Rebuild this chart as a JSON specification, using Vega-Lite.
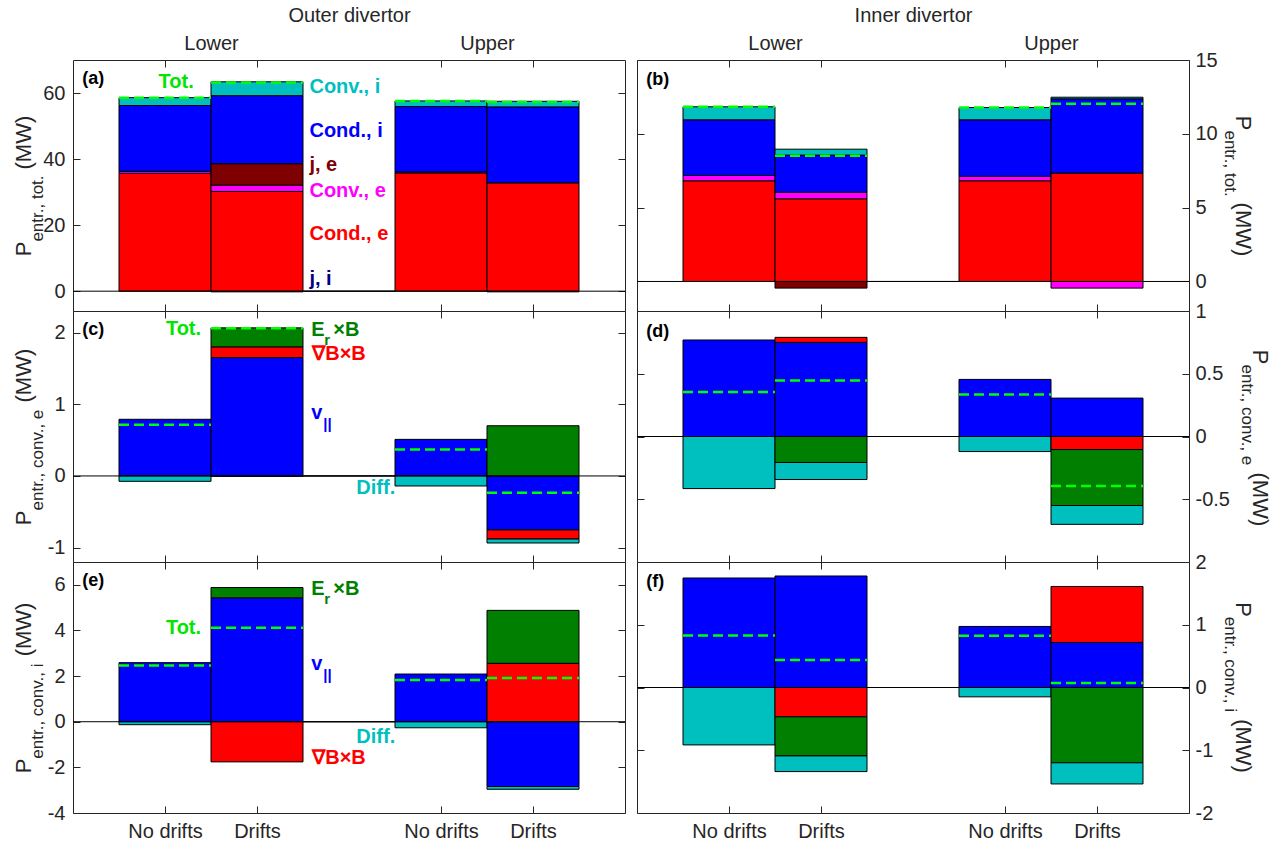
{
  "$schema": "https://vega.github.io/schema/vega-lite/v6.json",
  "autosize": {"type": "pad"},
  "padding": {"left": 12, "top": 4, "right": 5, "bottom": 5},
  "background": "white",
  "config": {
    "font": "Liberation Sans",
    "view": {"stroke": "#262626", "strokeWidth": 1},
    "axis": {
      "domain": false, "grid": false, "tickSize": -7, "tickColor": "#262626", "tickWidth": 1,
      "labelFont": "Liberation Sans", "labelFontSize": 20, "labelColor": "#262626",
      "labelFlush": false, "labelOverlap": false,
      "titleFont": "Liberation Sans", "titleColor": "#262626", "titleFontWeight": "normal"
    }
  },
  "datasets": {
    "bars": [
      {"panel": "a", "pos": 1, "comp": "Cond., e", "value": 35.7},
      {"panel": "a", "pos": 1, "comp": "Conv., e", "value": 0.6},
      {"panel": "a", "pos": 1, "comp": "Cond., i", "value": 19.9},
      {"panel": "a", "pos": 1, "comp": "Conv., i", "value": 2.4},
      {"panel": "a", "pos": 2, "comp": "j, i", "value": -0.2},
      {"panel": "a", "pos": 2, "comp": "Cond., e", "value": 30.2},
      {"panel": "a", "pos": 2, "comp": "Conv., e", "value": 1.9},
      {"panel": "a", "pos": 2, "comp": "j, e", "value": 6.5},
      {"panel": "a", "pos": 2, "comp": "Cond., i", "value": 20.6},
      {"panel": "a", "pos": 2, "comp": "Conv., i", "value": 4.2},
      {"panel": "a", "pos": 3, "comp": "Cond., e", "value": 0},
      {"panel": "a", "pos": 4, "comp": "Cond., e", "value": 35.8},
      {"panel": "a", "pos": 4, "comp": "Conv., e", "value": 0.3},
      {"panel": "a", "pos": 4, "comp": "Cond., i", "value": 19.8},
      {"panel": "a", "pos": 4, "comp": "Conv., i", "value": 1.7},
      {"panel": "a", "pos": 5, "comp": "j, i", "value": -0.2},
      {"panel": "a", "pos": 5, "comp": "Cond., e", "value": 32.8},
      {"panel": "a", "pos": 5, "comp": "Cond., i", "value": 23.0},
      {"panel": "a", "pos": 5, "comp": "Conv., i", "value": 1.7},

      {"panel": "b", "pos": 1, "comp": "Cond., e", "value": 6.82},
      {"panel": "b", "pos": 1, "comp": "Conv., e", "value": 0.36},
      {"panel": "b", "pos": 1, "comp": "Cond., i", "value": 3.77},
      {"panel": "b", "pos": 1, "comp": "Conv., i", "value": 0.88},
      {"panel": "b", "pos": 2, "comp": "Cond., e", "value": 5.6},
      {"panel": "b", "pos": 2, "comp": "Conv., e", "value": 0.45},
      {"panel": "b", "pos": 2, "comp": "j, e", "value": -0.45},
      {"panel": "b", "pos": 2, "comp": "Cond., i", "value": 2.51},
      {"panel": "b", "pos": 2, "comp": "Conv., i", "value": 0.4},
      {"panel": "b", "pos": 3, "comp": "Cond., e", "value": 0},
      {"panel": "b", "pos": 4, "comp": "Cond., e", "value": 6.82},
      {"panel": "b", "pos": 4, "comp": "Conv., e", "value": 0.31},
      {"panel": "b", "pos": 4, "comp": "Cond., i", "value": 3.82},
      {"panel": "b", "pos": 4, "comp": "Conv., i", "value": 0.83},
      {"panel": "b", "pos": 5, "comp": "Cond., e", "value": 7.34},
      {"panel": "b", "pos": 5, "comp": "Conv., e", "value": -0.45},
      {"panel": "b", "pos": 5, "comp": "Cond., i", "value": 5.03},
      {"panel": "b", "pos": 5, "comp": "Conv., i", "value": 0.11},

      {"panel": "c", "pos": 1, "comp": "v||", "value": 0.79},
      {"panel": "c", "pos": 1, "comp": "Diff.", "value": -0.075},
      {"panel": "c", "pos": 2, "comp": "v||", "value": 1.65},
      {"panel": "c", "pos": 2, "comp": "∇B×B", "value": 0.15},
      {"panel": "c", "pos": 2, "comp": "Er×B", "value": 0.265},
      {"panel": "c", "pos": 2, "comp": "Diff.", "value": -0.005},
      {"panel": "c", "pos": 3, "comp": "v||", "value": 0},
      {"panel": "c", "pos": 4, "comp": "v||", "value": 0.51},
      {"panel": "c", "pos": 4, "comp": "Diff.", "value": -0.14},
      {"panel": "c", "pos": 5, "comp": "v||", "value": -0.753},
      {"panel": "c", "pos": 5, "comp": "∇B×B", "value": -0.127},
      {"panel": "c", "pos": 5, "comp": "Er×B", "value": 0.7},
      {"panel": "c", "pos": 5, "comp": "Diff.", "value": -0.055},

      {"panel": "d", "pos": 1, "comp": "v||", "value": 0.769},
      {"panel": "d", "pos": 1, "comp": "Diff.", "value": -0.415},
      {"panel": "d", "pos": 2, "comp": "v||", "value": 0.75},
      {"panel": "d", "pos": 2, "comp": "∇B×B", "value": 0.04},
      {"panel": "d", "pos": 2, "comp": "Er×B", "value": -0.207},
      {"panel": "d", "pos": 2, "comp": "Diff.", "value": -0.136},
      {"panel": "d", "pos": 3, "comp": "v||", "value": 0},
      {"panel": "d", "pos": 4, "comp": "v||", "value": 0.455},
      {"panel": "d", "pos": 4, "comp": "Diff.", "value": -0.12},
      {"panel": "d", "pos": 5, "comp": "v||", "value": 0.306},
      {"panel": "d", "pos": 5, "comp": "∇B×B", "value": -0.104},
      {"panel": "d", "pos": 5, "comp": "Er×B", "value": -0.446},
      {"panel": "d", "pos": 5, "comp": "Diff.", "value": -0.15},

      {"panel": "e", "pos": 1, "comp": "v||", "value": 2.59},
      {"panel": "e", "pos": 1, "comp": "Diff.", "value": -0.13},
      {"panel": "e", "pos": 2, "comp": "v||", "value": 5.43},
      {"panel": "e", "pos": 2, "comp": "∇B×B", "value": -1.76},
      {"panel": "e", "pos": 2, "comp": "Er×B", "value": 0.45},
      {"panel": "e", "pos": 3, "comp": "v||", "value": 0},
      {"panel": "e", "pos": 4, "comp": "v||", "value": 2.09},
      {"panel": "e", "pos": 4, "comp": "Diff.", "value": -0.265},
      {"panel": "e", "pos": 5, "comp": "v||", "value": -2.84},
      {"panel": "e", "pos": 5, "comp": "∇B×B", "value": 2.56},
      {"panel": "e", "pos": 5, "comp": "Er×B", "value": 2.32},
      {"panel": "e", "pos": 5, "comp": "Diff.", "value": -0.12},

      {"panel": "f", "pos": 1, "comp": "v||", "value": 1.745},
      {"panel": "f", "pos": 1, "comp": "Diff.", "value": -0.915},
      {"panel": "f", "pos": 2, "comp": "v||", "value": 1.777},
      {"panel": "f", "pos": 2, "comp": "∇B×B", "value": -0.468},
      {"panel": "f", "pos": 2, "comp": "Er×B", "value": -0.622},
      {"panel": "f", "pos": 2, "comp": "Diff.", "value": -0.25},
      {"panel": "f", "pos": 3, "comp": "v||", "value": 0},
      {"panel": "f", "pos": 4, "comp": "v||", "value": 0.973},
      {"panel": "f", "pos": 4, "comp": "Diff.", "value": -0.149},
      {"panel": "f", "pos": 5, "comp": "v||", "value": 0.718},
      {"panel": "f", "pos": 5, "comp": "∇B×B", "value": 0.892},
      {"panel": "f", "pos": 5, "comp": "Er×B", "value": -1.2},
      {"panel": "f", "pos": 5, "comp": "Diff.", "value": -0.337}
    ],
    "totals": [
      {"panel": "a", "pos": 1, "total": 58.6}, {"panel": "a", "pos": 2, "total": 63.2},
      {"panel": "a", "pos": 4, "total": 57.6}, {"panel": "a", "pos": 5, "total": 57.3},
      {"panel": "b", "pos": 1, "total": 11.83}, {"panel": "b", "pos": 2, "total": 8.51},
      {"panel": "b", "pos": 4, "total": 11.78}, {"panel": "b", "pos": 5, "total": 12.03},
      {"panel": "c", "pos": 1, "total": 0.715}, {"panel": "c", "pos": 2, "total": 2.06},
      {"panel": "c", "pos": 4, "total": 0.37}, {"panel": "c", "pos": 5, "total": -0.235},
      {"panel": "d", "pos": 1, "total": 0.354}, {"panel": "d", "pos": 2, "total": 0.447},
      {"panel": "d", "pos": 4, "total": 0.335}, {"panel": "d", "pos": 5, "total": -0.394},
      {"panel": "e", "pos": 1, "total": 2.46}, {"panel": "e", "pos": 2, "total": 4.12},
      {"panel": "e", "pos": 4, "total": 1.825}, {"panel": "e", "pos": 5, "total": 1.92},
      {"panel": "f", "pos": 1, "total": 0.83}, {"panel": "f", "pos": 2, "total": 0.437},
      {"panel": "f", "pos": 4, "total": 0.824}, {"panel": "f", "pos": 5, "total": 0.073}
    ],
    "notes": [
      {"panel": "a", "x": 0.93, "y": 63.4, "text": "Tot.", "comp": "Tot."},
      {"panel": "a", "x": 2.57, "y": 61.8, "text": "Conv., i", "comp": "Conv., i"},
      {"panel": "a", "x": 2.57, "y": 48.6, "text": "Cond., i", "comp": "Cond., i"},
      {"panel": "a", "x": 2.57, "y": 38.1, "text": "j, e", "comp": "j, e"},
      {"panel": "a", "x": 2.57, "y": 30.4, "text": "Conv., e", "comp": "Conv., e"},
      {"panel": "a", "x": 2.57, "y": 17.2, "text": "Cond., e", "comp": "Cond., e"},
      {"panel": "a", "x": 2.57, "y": 3.6, "text": "j, i", "comp": "j, i"},
      {"panel": "c", "x": 1.01, "y": 2.05, "text": "Tot.", "comp": "Tot."},
      {"panel": "c", "x": 2.59, "y": 2.04, "text": "E", "comp": "Er×B"},
      {"panel": "c", "x": 2.83, "y": 2.04, "text": "×B", "comp": "Er×B"},
      {"panel": "c", "x": 2.6, "y": 1.7, "text": "∇B×B", "comp": "∇B×B"},
      {"panel": "c", "x": 2.59, "y": 0.88, "text": "v", "comp": "v||"},
      {"panel": "c", "x": 3.08, "y": -0.17, "text": "Diff.", "comp": "Diff."},
      {"panel": "e", "x": 2.59, "y": 5.82, "text": "E", "comp": "Er×B"},
      {"panel": "e", "x": 2.83, "y": 5.82, "text": "×B", "comp": "Er×B"},
      {"panel": "e", "x": 1.01, "y": 4.12, "text": "Tot.", "comp": "Tot."},
      {"panel": "e", "x": 2.59, "y": 2.54, "text": "v", "comp": "v||"},
      {"panel": "e", "x": 3.08, "y": -0.66, "text": "Diff.", "comp": "Diff."},
      {"panel": "e", "x": 2.6, "y": -1.57, "text": "∇B×B", "comp": "∇B×B"}
    ],
    "subs": [
      {"panel": "c", "x": 2.73, "y": 1.9, "text": "r", "comp": "Er×B"},
      {"panel": "c", "x": 2.72, "y": 0.72, "text": "||", "comp": "v||"},
      {"panel": "e", "x": 2.73, "y": 5.37, "text": "r", "comp": "Er×B"},
      {"panel": "e", "x": 2.72, "y": 2.03, "text": "||", "comp": "v||"}
    ],
    "letters": [
      {"panel": "a", "x": 0.1, "y": 64.1, "text": "(a)"},
      {"panel": "b", "x": 0.1, "y": 13.65, "text": "(b)"},
      {"panel": "c", "x": 0.1, "y": 2.04, "text": "(c)"},
      {"panel": "d", "x": 0.1, "y": 0.83, "text": "(d)"},
      {"panel": "e", "x": 0.1, "y": 6.15, "text": "(e)"},
      {"panel": "f", "x": 0.1, "y": 1.68, "text": "(f)"}
    ]
  },
  "concat": [
    {
      "width": 552, "height": 251,
      "resolve": {"axis": {"x": "independent", "y": "independent"}},
      "layer": [
        {
          "data": {"name": "bars"},
          "transform": [{"filter": "datum.panel == 'a'"}, {"stack": "value", "groupby": ["pos"], "as": ["v0", "v1"]}, {"calculate": "datum.pos - 0.5", "as": "x0"}, {"calculate": "datum.pos + 0.5", "as": "x1"}],
          "mark": {"type": "bar", "stroke": "#000000", "strokeWidth": 1},
          "encoding": {
            "x": {"field": "x0", "type": "quantitative", "scale": {"domain": [0, 6], "nice": false, "zero": false}, "axis": {"orient": "bottom", "values": [1, 2, 4, 5], "labels": false, "title": null}},
            "x2": {"field": "x1"},
            "y": {"field": "v0", "type": "quantitative", "scale": {"domain": [-6, 70], "nice": false, "zero": false}, "axis": {"orient": "left", "values": [0, 20, 40, 60], "format": "~r", "labelExpr": "replace(datum.label, '−', '-')", "labelPadding": 15, "title": "P", "titleX": -42.5, "titleY": 195.8, "titleAngle": 270, "titleAlign": "left", "titleBaseline": "alphabetic", "titleFontSize": 22}},
            "y2": {"field": "v1"},
            "color": {"field": "comp", "type": "nominal", "legend": null, "scale": {"domain": ["j, i", "Cond., e", "Conv., e", "j, e", "Cond., i", "Conv., i", "v||", "∇B×B", "Er×B", "Diff.", "Tot."], "range": ["#00007f", "#ff0000", "#ff00ff", "#7f0000", "#0000ff", "#00bfbf", "#0000ff", "#ff0000", "#007f00", "#00bfbf", "#00e600"]}}
          }
        },
        {
          "data": {"values": [{"zero": 0}]},
          "mark": {"type": "rule", "stroke": "#000000", "strokeWidth": 1},
          "encoding": {
            "y": {"field": "zero", "type": "quantitative", "scale": {"domain": [-6, 70], "nice": false, "zero": false}, "axis": {"orient": "left", "labels": false, "ticks": false, "title": "(MW)", "titleX": -42.5, "titleY": 109, "titleAngle": 270, "titleAlign": "left", "titleBaseline": "alphabetic", "titleFontSize": 22}}
          }
        },
        {
          "data": {"name": "totals"},
          "transform": [{"filter": "datum.panel == 'a'"}, {"calculate": "datum.pos - 0.5", "as": "x0"}, {"calculate": "datum.pos + 0.5", "as": "x1"}],
          "mark": {"type": "rule", "stroke": "#00ff00", "strokeWidth": 2.5, "strokeDash": [10, 5]},
          "encoding": {
            "x": {"field": "x0", "type": "quantitative", "scale": {"domain": [0, 6], "nice": false, "zero": false}, "axis": {"orient": "top", "values": [1, 1.5, 2, 4, 4.5, 5], "labelExpr": "datum.value == 1.5 ? 'Lower' : datum.value == 4.5 ? 'Upper' : ''", "tickOpacity": {"condition": {"test": "datum.value == 1.5 || datum.value == 4.5", "value": 0}, "value": 1}, "labelPadding": 14, "title": "Outer divertor", "titleY": -39, "titleBaseline": "alphabetic", "titleFontSize": 20}},
            "x2": {"field": "x1"},
            "y": {"field": "total", "type": "quantitative", "scale": {"domain": [-6, 70], "nice": false, "zero": false}, "axis": {"orient": "left", "labels": false, "ticks": false, "title": "entr., tot.", "titleX": -30.5, "titleY": 181.1, "titleAngle": 270, "titleAlign": "left", "titleBaseline": "alphabetic", "titleFontSize": 17}}
          }
        },
        {
          "data": {"name": "notes"},
          "transform": [{"filter": "datum.panel == 'a'"}],
          "mark": {"type": "text", "align": "left", "baseline": "middle", "fontSize": 20, "fontWeight": "bold"},
          "encoding": {
            "x": {"field": "x", "type": "quantitative", "scale": {"domain": [0, 6], "nice": false, "zero": false}, "axis": null},
            "y": {"field": "y", "type": "quantitative", "scale": {"domain": [-6, 70], "nice": false, "zero": false}, "axis": null},
            "text": {"field": "text"},
            "color": {"field": "comp", "type": "nominal", "legend": null}
          }
        },
        {
          "data": {"name": "letters"},
          "transform": [{"filter": "datum.panel == 'a'"}],
          "mark": {"type": "text", "align": "left", "baseline": "middle", "fontSize": 18, "fontWeight": "bold", "color": "#000000"},
          "encoding": {
            "x": {"field": "x", "type": "quantitative", "scale": {"domain": [0, 6], "nice": false, "zero": false}, "axis": null},
            "y": {"field": "y", "type": "quantitative", "scale": {"domain": [-6, 70], "nice": false, "zero": false}, "axis": {"orient": "right", "values": [0, 20, 40, 60], "labels": false, "title": null}},
            "text": {"field": "text"}
          }
        }
      ]
    },
    {
      "width": 552, "height": 251,
      "resolve": {"axis": {"x": "independent", "y": "independent"}},
      "layer": [
        {
          "data": {"name": "bars"},
          "transform": [{"filter": "datum.panel == 'b'"}, {"stack": "value", "groupby": ["pos"], "as": ["v0", "v1"]}, {"calculate": "datum.pos - 0.5", "as": "x0"}, {"calculate": "datum.pos + 0.5", "as": "x1"}],
          "mark": {"type": "bar", "stroke": "#000000", "strokeWidth": 1},
          "encoding": {
            "x": {"field": "x0", "type": "quantitative", "scale": {"domain": [0, 6], "nice": false, "zero": false}, "axis": {"orient": "bottom", "values": [1, 2, 4, 5], "labels": false, "title": null}},
            "x2": {"field": "x1"},
            "y": {"field": "v0", "type": "quantitative", "scale": {"domain": [-2, 15], "nice": false, "zero": false}, "axis": {"orient": "right", "values": [0, 5, 10, 15], "format": "~r", "labelExpr": "replace(datum.label, '−', '-')", "labelPadding": 13, "title": "P", "titleX": 46, "titleY": 55.25, "titleAngle": 90, "titleAlign": "left", "titleBaseline": "alphabetic", "titleFontSize": 22}},
            "y2": {"field": "v1"},
            "color": {"field": "comp", "type": "nominal", "legend": null, "scale": {"domain": ["j, i", "Cond., e", "Conv., e", "j, e", "Cond., i", "Conv., i", "v||", "∇B×B", "Er×B", "Diff.", "Tot."], "range": ["#00007f", "#ff0000", "#ff00ff", "#7f0000", "#0000ff", "#00bfbf", "#0000ff", "#ff0000", "#007f00", "#00bfbf", "#00e600"]}}
          }
        },
        {
          "data": {"values": [{"zero": 0}]},
          "mark": {"type": "rule", "stroke": "#000000", "strokeWidth": 1},
          "encoding": {
            "y": {"field": "zero", "type": "quantitative", "scale": {"domain": [-2, 15], "nice": false, "zero": false}, "axis": {"orient": "right", "labels": false, "ticks": false, "title": "(MW)", "titleX": 46, "titleY": 142.05, "titleAngle": 90, "titleAlign": "left", "titleBaseline": "alphabetic", "titleFontSize": 22}}
          }
        },
        {
          "data": {"name": "totals"},
          "transform": [{"filter": "datum.panel == 'b'"}, {"calculate": "datum.pos - 0.5", "as": "x0"}, {"calculate": "datum.pos + 0.5", "as": "x1"}],
          "mark": {"type": "rule", "stroke": "#00ff00", "strokeWidth": 2.5, "strokeDash": [10, 5]},
          "encoding": {
            "x": {"field": "x0", "type": "quantitative", "scale": {"domain": [0, 6], "nice": false, "zero": false}, "axis": {"orient": "top", "values": [1, 1.5, 2, 4, 4.5, 5], "labelExpr": "datum.value == 1.5 ? 'Lower' : datum.value == 4.5 ? 'Upper' : ''", "tickOpacity": {"condition": {"test": "datum.value == 1.5 || datum.value == 4.5", "value": 0}, "value": 1}, "labelPadding": 14, "title": "Inner divertor", "titleY": -39, "titleBaseline": "alphabetic", "titleFontSize": 20}},
            "x2": {"field": "x1"},
            "y": {"field": "total", "type": "quantitative", "scale": {"domain": [-2, 15], "nice": false, "zero": false}, "axis": {"orient": "right", "labels": false, "ticks": false, "title": "entr., tot.", "titleX": 35, "titleY": 69.95, "titleAngle": 90, "titleAlign": "left", "titleBaseline": "alphabetic", "titleFontSize": 17}}
          }
        },
        {
          "data": {"name": "letters"},
          "transform": [{"filter": "datum.panel == 'b'"}],
          "mark": {"type": "text", "align": "left", "baseline": "middle", "fontSize": 18, "fontWeight": "bold", "color": "#000000"},
          "encoding": {
            "x": {"field": "x", "type": "quantitative", "scale": {"domain": [0, 6], "nice": false, "zero": false}, "axis": null},
            "y": {"field": "y", "type": "quantitative", "scale": {"domain": [-2, 15], "nice": false, "zero": false}, "axis": {"orient": "left", "values": [0, 5, 10, 15], "labels": false, "title": null}},
            "text": {"field": "text"}
          }
        }
      ]
    },
    {
      "width": 552, "height": 251,
      "resolve": {"axis": {"x": "independent", "y": "independent"}},
      "layer": [
        {
          "data": {"name": "bars"},
          "transform": [{"filter": "datum.panel == 'c'"}, {"stack": "value", "groupby": ["pos"], "as": ["v0", "v1"]}, {"calculate": "datum.pos - 0.5", "as": "x0"}, {"calculate": "datum.pos + 0.5", "as": "x1"}],
          "mark": {"type": "bar", "stroke": "#000000", "strokeWidth": 1},
          "encoding": {
            "x": {"field": "x0", "type": "quantitative", "scale": {"domain": [0, 6], "nice": false, "zero": false}, "axis": {"orient": "bottom", "values": [1, 2, 4, 5], "labels": false, "title": null}},
            "x2": {"field": "x1"},
            "y": {"field": "v0", "type": "quantitative", "scale": {"domain": [-1.2, 2.3], "nice": false, "zero": false}, "axis": {"orient": "left", "values": [-1, 0, 1, 2], "format": "~r", "labelExpr": "replace(datum.label, '−', '-')", "labelPadding": 15, "title": "P", "titleX": -42.5, "titleY": 213.7, "titleAngle": 270, "titleAlign": "left", "titleBaseline": "alphabetic", "titleFontSize": 22}},
            "y2": {"field": "v1"},
            "color": {"field": "comp", "type": "nominal", "legend": null, "scale": {"domain": ["j, i", "Cond., e", "Conv., e", "j, e", "Cond., i", "Conv., i", "v||", "∇B×B", "Er×B", "Diff.", "Tot."], "range": ["#00007f", "#ff0000", "#ff00ff", "#7f0000", "#0000ff", "#00bfbf", "#0000ff", "#ff0000", "#007f00", "#00bfbf", "#00e600"]}}
          }
        },
        {
          "data": {"values": [{"zero": 0}]},
          "mark": {"type": "rule", "stroke": "#000000", "strokeWidth": 1},
          "encoding": {
            "y": {"field": "zero", "type": "quantitative", "scale": {"domain": [-1.2, 2.3], "nice": false, "zero": false}, "axis": {"orient": "left", "labels": false, "ticks": false, "title": "(MW)", "titleX": -42.5, "titleY": 91, "titleAngle": 270, "titleAlign": "left", "titleBaseline": "alphabetic", "titleFontSize": 22}}
          }
        },
        {
          "data": {"name": "totals"},
          "transform": [{"filter": "datum.panel == 'c'"}, {"calculate": "datum.pos - 0.5", "as": "x0"}, {"calculate": "datum.pos + 0.5", "as": "x1"}],
          "mark": {"type": "rule", "stroke": "#00ff00", "strokeWidth": 2.5, "strokeDash": [10, 5]},
          "encoding": {
            "x": {"field": "x0", "type": "quantitative", "scale": {"domain": [0, 6], "nice": false, "zero": false}, "axis": {"orient": "top", "values": [1, 2, 4, 5], "labels": false, "title": null}},
            "x2": {"field": "x1"},
            "y": {"field": "total", "type": "quantitative", "scale": {"domain": [-1.2, 2.3], "nice": false, "zero": false}, "axis": {"orient": "left", "labels": false, "ticks": false, "title": "entr., conv., e", "titleX": -30.5, "titleY": 199, "titleAngle": 270, "titleAlign": "left", "titleBaseline": "alphabetic", "titleFontSize": 17}}
          }
        },
        {
          "data": {"name": "notes"},
          "transform": [{"filter": "datum.panel == 'c'"}],
          "mark": {"type": "text", "align": "left", "baseline": "middle", "fontSize": 20, "fontWeight": "bold"},
          "encoding": {
            "x": {"field": "x", "type": "quantitative", "scale": {"domain": [0, 6], "nice": false, "zero": false}, "axis": null},
            "y": {"field": "y", "type": "quantitative", "scale": {"domain": [-1.2, 2.3], "nice": false, "zero": false}, "axis": null},
            "text": {"field": "text"},
            "color": {"field": "comp", "type": "nominal", "legend": null}
          }
        },
        {
          "data": {"name": "subs"},
          "transform": [{"filter": "datum.panel == 'c'"}],
          "mark": {"type": "text", "align": "left", "baseline": "middle", "fontSize": 15, "fontWeight": "bold"},
          "encoding": {
            "x": {"field": "x", "type": "quantitative", "scale": {"domain": [0, 6], "nice": false, "zero": false}, "axis": null},
            "y": {"field": "y", "type": "quantitative", "scale": {"domain": [-1.2, 2.3], "nice": false, "zero": false}, "axis": null},
            "text": {"field": "text"},
            "color": {"field": "comp", "type": "nominal", "legend": null}
          }
        },
        {
          "data": {"name": "letters"},
          "transform": [{"filter": "datum.panel == 'c'"}],
          "mark": {"type": "text", "align": "left", "baseline": "middle", "fontSize": 18, "fontWeight": "bold", "color": "#000000"},
          "encoding": {
            "x": {"field": "x", "type": "quantitative", "scale": {"domain": [0, 6], "nice": false, "zero": false}, "axis": null},
            "y": {"field": "y", "type": "quantitative", "scale": {"domain": [-1.2, 2.3], "nice": false, "zero": false}, "axis": {"orient": "right", "values": [-1, 0, 1, 2], "labels": false, "title": null}},
            "text": {"field": "text"}
          }
        }
      ]
    },
    {
      "width": 552, "height": 251,
      "resolve": {"axis": {"x": "independent", "y": "independent"}},
      "layer": [
        {
          "data": {"name": "bars"},
          "transform": [{"filter": "datum.panel == 'd'"}, {"stack": "value", "groupby": ["pos"], "as": ["v0", "v1"]}, {"calculate": "datum.pos - 0.5", "as": "x0"}, {"calculate": "datum.pos + 0.5", "as": "x1"}],
          "mark": {"type": "bar", "stroke": "#000000", "strokeWidth": 1},
          "encoding": {
            "x": {"field": "x0", "type": "quantitative", "scale": {"domain": [0, 6], "nice": false, "zero": false}, "axis": {"orient": "bottom", "values": [1, 2, 4, 5], "labels": false, "title": null}},
            "x2": {"field": "x1"},
            "y": {"field": "v0", "type": "quantitative", "scale": {"domain": [-1, 1], "nice": false, "zero": false}, "axis": {"orient": "right", "values": [-0.5, 0, 0.5, 1], "format": "~r", "labelExpr": "replace(datum.label, '−', '-')", "labelPadding": 13, "title": "P", "titleX": 63.5, "titleY": 38.3, "titleAngle": 90, "titleAlign": "left", "titleBaseline": "alphabetic", "titleFontSize": 22}},
            "y2": {"field": "v1"},
            "color": {"field": "comp", "type": "nominal", "legend": null, "scale": {"domain": ["j, i", "Cond., e", "Conv., e", "j, e", "Cond., i", "Conv., i", "v||", "∇B×B", "Er×B", "Diff.", "Tot."], "range": ["#00007f", "#ff0000", "#ff00ff", "#7f0000", "#0000ff", "#00bfbf", "#0000ff", "#ff0000", "#007f00", "#00bfbf", "#00e600"]}}
          }
        },
        {
          "data": {"values": [{"zero": 0}]},
          "mark": {"type": "rule", "stroke": "#000000", "strokeWidth": 1},
          "encoding": {
            "y": {"field": "zero", "type": "quantitative", "scale": {"domain": [-1, 1], "nice": false, "zero": false}, "axis": {"orient": "right", "labels": false, "ticks": false, "title": "(MW)", "titleX": 63.5, "titleY": 161, "titleAngle": 90, "titleAlign": "left", "titleBaseline": "alphabetic", "titleFontSize": 22}}
          }
        },
        {
          "data": {"name": "totals"},
          "transform": [{"filter": "datum.panel == 'd'"}, {"calculate": "datum.pos - 0.5", "as": "x0"}, {"calculate": "datum.pos + 0.5", "as": "x1"}],
          "mark": {"type": "rule", "stroke": "#00ff00", "strokeWidth": 2.5, "strokeDash": [10, 5]},
          "encoding": {
            "x": {"field": "x0", "type": "quantitative", "scale": {"domain": [0, 6], "nice": false, "zero": false}, "axis": {"orient": "top", "values": [1, 2, 4, 5], "labels": false, "title": null}},
            "x2": {"field": "x1"},
            "y": {"field": "total", "type": "quantitative", "scale": {"domain": [-1, 1], "nice": false, "zero": false}, "axis": {"orient": "right", "labels": false, "ticks": false, "title": "entr., conv., e", "titleX": 52, "titleY": 53, "titleAngle": 90, "titleAlign": "left", "titleBaseline": "alphabetic", "titleFontSize": 17}}
          }
        },
        {
          "data": {"name": "letters"},
          "transform": [{"filter": "datum.panel == 'd'"}],
          "mark": {"type": "text", "align": "left", "baseline": "middle", "fontSize": 18, "fontWeight": "bold", "color": "#000000"},
          "encoding": {
            "x": {"field": "x", "type": "quantitative", "scale": {"domain": [0, 6], "nice": false, "zero": false}, "axis": null},
            "y": {"field": "y", "type": "quantitative", "scale": {"domain": [-1, 1], "nice": false, "zero": false}, "axis": {"orient": "left", "values": [-0.5, 0, 0.5, 1], "labels": false, "title": null}},
            "text": {"field": "text"}
          }
        }
      ]
    },
    {
      "width": 552, "height": 251,
      "resolve": {"axis": {"x": "independent", "y": "independent"}},
      "layer": [
        {
          "data": {"name": "bars"},
          "transform": [{"filter": "datum.panel == 'e'"}, {"stack": "value", "groupby": ["pos"], "as": ["v0", "v1"]}, {"calculate": "datum.pos - 0.5", "as": "x0"}, {"calculate": "datum.pos + 0.5", "as": "x1"}],
          "mark": {"type": "bar", "stroke": "#000000", "strokeWidth": 1},
          "encoding": {
            "x": {"field": "x0", "type": "quantitative", "scale": {"domain": [0, 6], "nice": false, "zero": false}, "axis": {"orient": "bottom", "values": [1, 2, 4, 5], "labelExpr": "datum.value == 1 || datum.value == 4 ? 'No drifts' : 'Drifts'", "labelPadding": 15, "title": null}},
            "x2": {"field": "x1"},
            "y": {"field": "v0", "type": "quantitative", "scale": {"domain": [-4, 7], "nice": false, "zero": false}, "axis": {"orient": "left", "values": [-4, -2, 0, 2, 4, 6], "format": "~r", "labelExpr": "replace(datum.label, '−', '-')", "labelPadding": 15, "title": "P", "titleX": -42.5, "titleY": 210.85, "titleAngle": 270, "titleAlign": "left", "titleBaseline": "alphabetic", "titleFontSize": 22}},
            "y2": {"field": "v1"},
            "color": {"field": "comp", "type": "nominal", "legend": null, "scale": {"domain": ["j, i", "Cond., e", "Conv., e", "j, e", "Cond., i", "Conv., i", "v||", "∇B×B", "Er×B", "Diff.", "Tot."], "range": ["#00007f", "#ff0000", "#ff00ff", "#7f0000", "#0000ff", "#00bfbf", "#0000ff", "#ff0000", "#007f00", "#00bfbf", "#00e600"]}}
          }
        },
        {
          "data": {"values": [{"zero": 0}]},
          "mark": {"type": "rule", "stroke": "#000000", "strokeWidth": 1},
          "encoding": {
            "y": {"field": "zero", "type": "quantitative", "scale": {"domain": [-4, 7], "nice": false, "zero": false}, "axis": {"orient": "left", "labels": false, "ticks": false, "title": "(MW)", "titleX": -42.5, "titleY": 93.85, "titleAngle": 270, "titleAlign": "left", "titleBaseline": "alphabetic", "titleFontSize": 22}}
          }
        },
        {
          "data": {"name": "totals"},
          "transform": [{"filter": "datum.panel == 'e'"}, {"calculate": "datum.pos - 0.5", "as": "x0"}, {"calculate": "datum.pos + 0.5", "as": "x1"}],
          "mark": {"type": "rule", "stroke": "#00ff00", "strokeWidth": 2.5, "strokeDash": [10, 5]},
          "encoding": {
            "x": {"field": "x0", "type": "quantitative", "scale": {"domain": [0, 6], "nice": false, "zero": false}, "axis": {"orient": "top", "values": [1, 2, 4, 5], "labels": false, "title": null}},
            "x2": {"field": "x1"},
            "y": {"field": "total", "type": "quantitative", "scale": {"domain": [-4, 7], "nice": false, "zero": false}, "axis": {"orient": "left", "labels": false, "ticks": false, "title": "entr., conv., i", "titleX": -30.5, "titleY": 196.15, "titleAngle": 270, "titleAlign": "left", "titleBaseline": "alphabetic", "titleFontSize": 17}}
          }
        },
        {
          "data": {"name": "notes"},
          "transform": [{"filter": "datum.panel == 'e'"}],
          "mark": {"type": "text", "align": "left", "baseline": "middle", "fontSize": 20, "fontWeight": "bold"},
          "encoding": {
            "x": {"field": "x", "type": "quantitative", "scale": {"domain": [0, 6], "nice": false, "zero": false}, "axis": null},
            "y": {"field": "y", "type": "quantitative", "scale": {"domain": [-4, 7], "nice": false, "zero": false}, "axis": null},
            "text": {"field": "text"},
            "color": {"field": "comp", "type": "nominal", "legend": null}
          }
        },
        {
          "data": {"name": "subs"},
          "transform": [{"filter": "datum.panel == 'e'"}],
          "mark": {"type": "text", "align": "left", "baseline": "middle", "fontSize": 15, "fontWeight": "bold"},
          "encoding": {
            "x": {"field": "x", "type": "quantitative", "scale": {"domain": [0, 6], "nice": false, "zero": false}, "axis": null},
            "y": {"field": "y", "type": "quantitative", "scale": {"domain": [-4, 7], "nice": false, "zero": false}, "axis": null},
            "text": {"field": "text"},
            "color": {"field": "comp", "type": "nominal", "legend": null}
          }
        },
        {
          "data": {"name": "letters"},
          "transform": [{"filter": "datum.panel == 'e'"}],
          "mark": {"type": "text", "align": "left", "baseline": "middle", "fontSize": 18, "fontWeight": "bold", "color": "#000000"},
          "encoding": {
            "x": {"field": "x", "type": "quantitative", "scale": {"domain": [0, 6], "nice": false, "zero": false}, "axis": null},
            "y": {"field": "y", "type": "quantitative", "scale": {"domain": [-4, 7], "nice": false, "zero": false}, "axis": {"orient": "right", "values": [-4, -2, 0, 2, 4, 6], "labels": false, "title": null}},
            "text": {"field": "text"}
          }
        }
      ]
    },
    {
      "width": 552, "height": 251,
      "resolve": {"axis": {"x": "independent", "y": "independent"}},
      "layer": [
        {
          "data": {"name": "bars"},
          "transform": [{"filter": "datum.panel == 'f'"}, {"stack": "value", "groupby": ["pos"], "as": ["v0", "v1"]}, {"calculate": "datum.pos - 0.5", "as": "x0"}, {"calculate": "datum.pos + 0.5", "as": "x1"}],
          "mark": {"type": "bar", "stroke": "#000000", "strokeWidth": 1},
          "encoding": {
            "x": {"field": "x0", "type": "quantitative", "scale": {"domain": [0, 6], "nice": false, "zero": false}, "axis": {"orient": "bottom", "values": [1, 2, 4, 5], "labelExpr": "datum.value == 1 || datum.value == 4 ? 'No drifts' : 'Drifts'", "labelPadding": 15, "title": null}},
            "x2": {"field": "x1"},
            "y": {"field": "v0", "type": "quantitative", "scale": {"domain": [-2, 2], "nice": false, "zero": false}, "axis": {"orient": "right", "values": [-2, -1, 0, 1, 2], "format": "~r", "labelExpr": "replace(datum.label, '−', '-')", "labelPadding": 13, "title": "P", "titleX": 46, "titleY": 39.65, "titleAngle": 90, "titleAlign": "left", "titleBaseline": "alphabetic", "titleFontSize": 22}},
            "y2": {"field": "v1"},
            "color": {"field": "comp", "type": "nominal", "legend": null, "scale": {"domain": ["j, i", "Cond., e", "Conv., e", "j, e", "Cond., i", "Conv., i", "v||", "∇B×B", "Er×B", "Diff.", "Tot."], "range": ["#00007f", "#ff0000", "#ff00ff", "#7f0000", "#0000ff", "#00bfbf", "#0000ff", "#ff0000", "#007f00", "#00bfbf", "#00e600"]}}
          }
        },
        {
          "data": {"values": [{"zero": 0}]},
          "mark": {"type": "rule", "stroke": "#000000", "strokeWidth": 1},
          "encoding": {
            "y": {"field": "zero", "type": "quantitative", "scale": {"domain": [-2, 2], "nice": false, "zero": false}, "axis": {"orient": "right", "labels": false, "ticks": false, "title": "(MW)", "titleX": 46, "titleY": 156.65, "titleAngle": 90, "titleAlign": "left", "titleBaseline": "alphabetic", "titleFontSize": 22}}
          }
        },
        {
          "data": {"name": "totals"},
          "transform": [{"filter": "datum.panel == 'f'"}, {"calculate": "datum.pos - 0.5", "as": "x0"}, {"calculate": "datum.pos + 0.5", "as": "x1"}],
          "mark": {"type": "rule", "stroke": "#00ff00", "strokeWidth": 2.5, "strokeDash": [10, 5]},
          "encoding": {
            "x": {"field": "x0", "type": "quantitative", "scale": {"domain": [0, 6], "nice": false, "zero": false}, "axis": {"orient": "top", "values": [1, 2, 4, 5], "labels": false, "title": null}},
            "x2": {"field": "x1"},
            "y": {"field": "total", "type": "quantitative", "scale": {"domain": [-2, 2], "nice": false, "zero": false}, "axis": {"orient": "right", "labels": false, "ticks": false, "title": "entr., conv., i", "titleX": 35, "titleY": 54.35, "titleAngle": 90, "titleAlign": "left", "titleBaseline": "alphabetic", "titleFontSize": 17}}
          }
        },
        {
          "data": {"name": "letters"},
          "transform": [{"filter": "datum.panel == 'f'"}],
          "mark": {"type": "text", "align": "left", "baseline": "middle", "fontSize": 18, "fontWeight": "bold", "color": "#000000"},
          "encoding": {
            "x": {"field": "x", "type": "quantitative", "scale": {"domain": [0, 6], "nice": false, "zero": false}, "axis": null},
            "y": {"field": "y", "type": "quantitative", "scale": {"domain": [-2, 2], "nice": false, "zero": false}, "axis": {"orient": "left", "values": [-2, -1, 0, 1, 2], "labels": false, "title": null}},
            "text": {"field": "text"}
          }
        }
      ]
    }
  ],
  "columns": 2,
  "spacing": {"row": 0, "column": 12},
  "bounds": "flush"
}
